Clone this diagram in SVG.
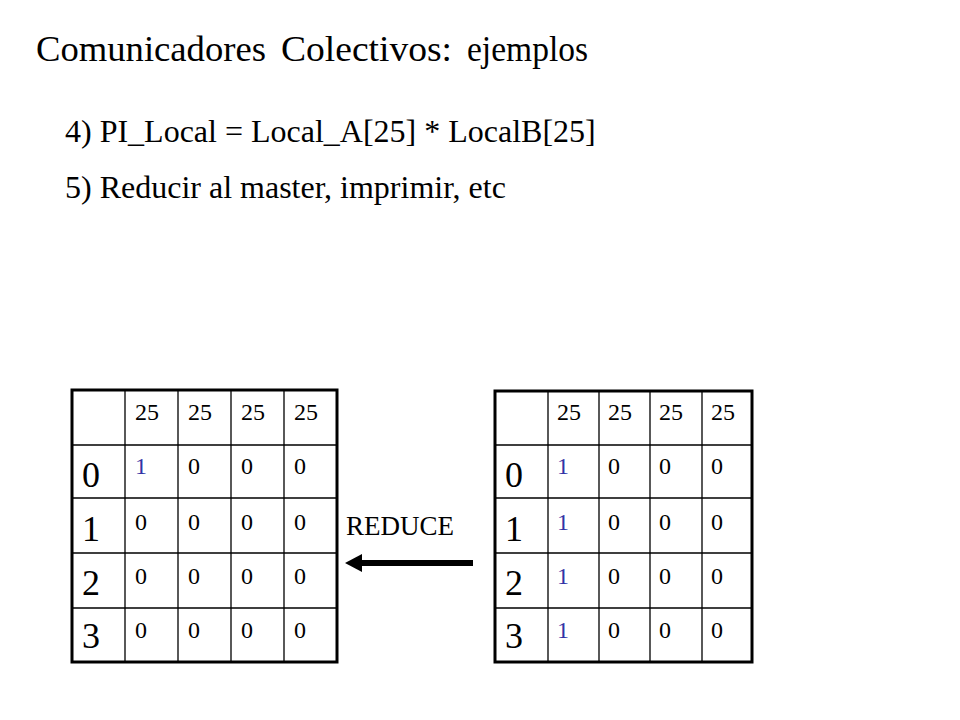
<svg xmlns="http://www.w3.org/2000/svg" width="960" height="720" viewBox="0 0 960 720">
<defs>
<style>
text{font-family:"Liberation Serif","Times New Roman",serif;fill:#000}
.title{font-size:36px}
.line{font-size:32px}
.hd{font-size:24px}
.cell{font-size:24px}
.blue{fill:#3333a6}
.row{font-size:36px}
.lbl{font-size:27px}
.outer{fill:#fff;stroke:#000;stroke-width:3}
.grid{stroke:#000;stroke-width:1.3;fill:none}
</style>
</defs>
<rect width="960" height="720" fill="#fff"/>
<g id="title">
<text class="title" y="61"><tspan x="36" textLength="230" lengthAdjust="spacingAndGlyphs">Comunicadores</tspan><tspan x="281" textLength="171" lengthAdjust="spacingAndGlyphs">Colectivos:</tspan><tspan x="467" textLength="121" lengthAdjust="spacingAndGlyphs">ejemplos</tspan></text>
</g>
<g id="step4"><text class="line" x="65" y="142">4) PI_Local = Local_A[25] * LocalB[25]</text></g>
<g id="step5"><text class="line" x="65" y="198">5) Reducir al master, imprimir, etc</text></g>

<g id="table-left">
<rect class="outer" x="72" y="390" width="265" height="272"/>
<path class="grid" d="M125 390V662M178 390V662M231 390V662M284 390V662M72 445H337M72 498H337M72 553H337M72 608H337"/>
<text class="hd" x="135" y="420">25</text><text class="hd" x="188" y="420">25</text><text class="hd" x="241" y="420">25</text><text class="hd" x="294" y="420">25</text>
<text class="row" x="82" y="487">0</text><text class="row" x="82" y="541">1</text><text class="row" x="82" y="595">2</text><text class="row" x="82" y="648">3</text>
<text class="cell blue" x="135" y="474">1</text><text class="cell" x="188" y="474">0</text><text class="cell" x="241" y="474">0</text><text class="cell" x="294" y="474">0</text>
<text class="cell" x="135" y="530">0</text><text class="cell" x="188" y="530">0</text><text class="cell" x="241" y="530">0</text><text class="cell" x="294" y="530">0</text>
<text class="cell" x="135" y="584">0</text><text class="cell" x="188" y="584">0</text><text class="cell" x="241" y="584">0</text><text class="cell" x="294" y="584">0</text>
<text class="cell" x="135" y="638">0</text><text class="cell" x="188" y="638">0</text><text class="cell" x="241" y="638">0</text><text class="cell" x="294" y="638">0</text>
</g>

<g id="table-right">
<rect class="outer" x="495" y="391" width="257" height="271"/>
<path class="grid" d="M548 391V662M599 391V662M650 391V662M702 391V662M495 445H752M495 498H752M495 553H752M495 608H752"/>
<text class="hd" x="557" y="420">25</text><text class="hd" x="608" y="420">25</text><text class="hd" x="659" y="420">25</text><text class="hd" x="711" y="420">25</text>
<text class="row" x="505" y="487">0</text><text class="row" x="505" y="541">1</text><text class="row" x="505" y="595">2</text><text class="row" x="505" y="648">3</text>
<text class="cell blue" x="557" y="474">1</text><text class="cell" x="608" y="474">0</text><text class="cell" x="659" y="474">0</text><text class="cell" x="711" y="474">0</text>
<text class="cell blue" x="557" y="530">1</text><text class="cell" x="608" y="530">0</text><text class="cell" x="659" y="530">0</text><text class="cell" x="711" y="530">0</text>
<text class="cell blue" x="557" y="584">1</text><text class="cell" x="608" y="584">0</text><text class="cell" x="659" y="584">0</text><text class="cell" x="711" y="584">0</text>
<text class="cell blue" x="557" y="638">1</text><text class="cell" x="608" y="638">0</text><text class="cell" x="659" y="638">0</text><text class="cell" x="711" y="638">0</text>
</g>

<g id="connectors">
<line x1="473" y1="563" x2="360" y2="563" stroke="#000" stroke-width="6"/>
<polygon points="345,563 362,554 362,572" fill="#000"/>
<text class="lbl" x="346" y="535">REDUCE</text>
</g>
</svg>
